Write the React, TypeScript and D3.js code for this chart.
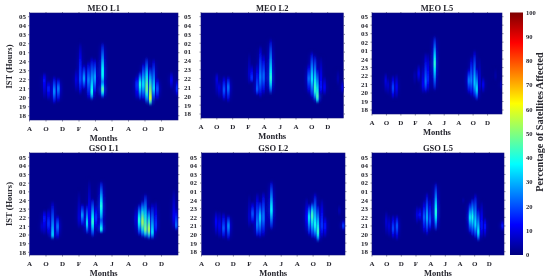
// App.tsx - six ionospheric scintillation heat maps with a shared jet colour bar
import React, { useEffect, useRef } from "react";
import * as d3 from "d3";

const monthLabels = ["A", "O", "D", "F", "A", "J", "A", "O", "D"];
const monthTicks = [0, 2, 4, 6, 8, 10, 12, 14, 16];
const hourTicks = [18, 19, 20, 21, 22, 23, 24, 25, 26, 27, 28, 29];
const hourLabels = ["18", "19", "20", "21", "22", "23", "24", "01", "02", "03", "04", "05"];
const colorTicks = [0, 10, 20, 30, 40, 50, 60, 70, 80, 90, 100];

// streak = [months since first Aug, lowest hour, hour of peak, highest hour, peak %]
// hours run on past midnight, so 25 is 01 IST
const meoL1 = [
  [1.8, 19.7, 22, 22.9, 14], [2.3, 19.6, 21, 22, 16], [3, 19.2, 20.7, 22.5, 28], [3.5, 19.4, 21, 22.3, 26],
  [5.66, 20.5, 22, 23.4, 10], [6.15, 20.1, 22, 26.4, 20], [6.6, 20.8, 22.1, 23.8, 30], [7.15, 19.7, 22, 24.2, 26],
  [7.55, 19.6, 20.5, 24.7, 40], [7.9, 20.2, 22.2, 24.5, 30], [8.86, 19.9, 22.8, 26.4, 40], [8.86, 19.9, 20.9, 22, 48],
  [13, 19.7, 21.5, 22.5, 18], [13.4, 19.6, 21.5, 23, 42], [13.8, 19.6, 21.5, 24, 36], [14.2, 19.2, 21, 24.7, 50],
  [14.65, 19, 19.9, 23.6, 60], [15.05, 19.5, 21, 24.5, 34], [15.5, 19.6, 21, 22.3, 22], [17.2, 20.8, 22, 23, 12], [17.9, 20.1, 21, 22.1, 18],
];
const meoL2 = [
  [2, 19.8, 22, 22.8, 10], [2.3, 19.6, 21, 22, 10], [2.9, 19.4, 20.7, 22.4, 22], [3.45, 19.2, 21, 22.4, 25],
  [6.1, 21.1, 22.5, 25.2, 8], [6.4, 21.5, 22, 23.7, 18], [7.1, 20, 20.7, 23.9, 22], [7.5, 19.6, 22, 26, 26],
  [7.9, 20, 22.2, 25, 24], [8.8, 20, 21.9, 26.8, 42],
  [13.6, 20.2, 22, 23.8, 24], [14, 19.6, 22, 25.3, 36], [14.4, 19.4, 20.7, 24.9, 45], [14.7, 19.1, 19.8, 23.4, 46],
  [15.15, 20, 21, 24.7, 15], [15.6, 20, 21, 22.4, 13], [17.3, 21, 22, 23.2, 5], [17.9, 20.3, 21, 21.8, 12],
];
const meoL5 = [
  [1.9, 19.8, 21.5, 22.5, 10], [2.2, 19.6, 21, 22, 8], [2.9, 19.2, 20.6, 22.2, 20], [3.4, 19.2, 20.7, 22.4, 13],
  [5.9, 20.7, 22, 23, 5], [6.46, 21.1, 22.3, 23.5, 12], [7.06, 19.8, 21, 23.5, 12], [7.43, 19.8, 21.2, 25, 24],
  [7.75, 19.9, 21.6, 25, 16], [8.68, 20, 23.5, 27, 42],
  [13.4, 19.8, 21.5, 23, 26], [13.75, 19.4, 21.5, 24.5, 26], [14.2, 19.2, 21.2, 25.3, 34], [14.5, 19, 20.4, 23.2, 36],
  [14.9, 19.9, 21, 24.5, 10], [15.4, 19.9, 21, 22, 12], [17.1, 21.2, 22, 23.2, 4], [17.9, 20.3, 21, 21.6, 7],
];
const gsoL1 = [
  [1.5, 20, 21, 22.1, 8], [1.8, 19.8, 22, 23, 15], [2.3, 19.8, 21.3, 23.2, 18], [2.8, 19.4, 19.9, 24.1, 34], [3.4, 19.4, 21, 22.4, 25],
  [6, 20.5, 22, 25.4, 9], [6.4, 20.9, 22.3, 23.7, 28], [7, 20, 21.3, 23.7, 36], [7.25, 20, 22, 26.7, 13],
  [7.65, 19.6, 21.5, 24.4, 42], [8.05, 20.5, 22, 23.7, 18], [8.7, 20.2, 23.3, 26.5, 40], [8.7, 20.2, 20.6, 22, 42],
  [12.9, 20.2, 22, 23.3, 9], [13.3, 19.8, 21.7, 23.7, 42], [13.7, 19.6, 21.5, 24.1, 55], [14.05, 19.5, 20.6, 25, 50],
  [14.46, 19.4, 20.6, 23.3, 55], [14.9, 19.4, 20.2, 23.9, 36], [15.3, 20, 21, 24.1, 18], [17.5, 20.7, 22, 25.6, 12], [17.8, 20.5, 21, 23.3, 24],
];
const gsoL2 = [
  [1.84, 19.7, 21.5, 22.9, 13], [2.25, 19.4, 21, 22.9, 12], [2.76, 19.4, 20.7, 22.7, 22], [3.38, 19.2, 21, 22.4, 28],
  [6, 20.5, 22, 25, 8], [6.4, 21.1, 22.4, 23.9, 22], [7, 19.5, 21, 25.1, 26], [7.35, 19.4, 22, 24.1, 34],
  [7.77, 19.5, 22, 25.2, 26], [8.77, 20.3, 22.9, 26.5, 38],
  [13.2, 20.1, 22, 24.5, 13], [13.5, 19.7, 22, 23.7, 36], [13.9, 19.4, 22.3, 23.9, 46], [14.25, 19.4, 21, 25.1, 40],
  [14.6, 19, 20.2, 23.7, 44], [15.1, 19.4, 21, 24.4, 18], [15.5, 19.5, 21, 22.3, 15], [17.8, 20.5, 21, 21.7, 20], [17.3, 22, 22.8, 23.6, 5],
];
const gsoL5 = [
  [1.96, 19.7, 21.5, 22.9, 9], [2.3, 19.5, 21, 22.5, 9], [2.87, 19.4, 20.7, 22.4, 20], [3.4, 19.2, 21, 22.4, 22],
  [6.15, 21.1, 22.3, 23.5, 10], [6.5, 21.5, 22.3, 23.3, 15], [7.1, 20, 22, 24.1, 22], [7.5, 19.7, 22, 25.1, 30],
  [7.9, 20.3, 21.6, 24.4, 22], [8.7, 20.2, 22.5, 26.3, 42],
  [12.45, 23.5, 24, 24.4, 4], [13.35, 20, 22, 23.9, 36], [13.7, 19.6, 22, 24.4, 40], [14.1, 19.4, 21.2, 25, 36],
  [14.5, 19.1, 20.2, 23.3, 38], [14.95, 19.4, 21, 24.1, 15], [15.4, 19.5, 21, 22.1, 15], [17.8, 20.4, 21, 21.7, 16],
];

const panels = [
  { title: "MEO L1", streaks: meoL1, left: 29.5, right: 178, top: 13, bottom: 120, y05: 16.7, y18: 115.7, tickX: 26, xLab: 129, mLab: 138, showY: true },
  { title: "MEO L2", streaks: meoL2, left: 201, right: 343.5, top: 13, bottom: 118, y05: 16.7, y18: 114, tickX: 191, xLab: 126.5, mLab: 136, showY: false },
  { title: "MEO L5", streaks: meoL5, left: 372, right: 502, top: 13, bottom: 114, y05: 16.7, y18: 110, tickX: 368, xLab: 122.5, mLab: 132, showY: false },
  { title: "GSO L1", streaks: gsoL1, left: 29.5, right: 178, top: 153, bottom: 255, y05: 157.3, y18: 252.3, tickX: 26, xLab: 263.5, mLab: 273, showY: true },
  { title: "GSO L2", streaks: gsoL2, left: 201.5, right: 345, top: 153, bottom: 255, y05: 157.3, y18: 251.7, tickX: 197, xLab: 263.5, mLab: 273, showY: false },
  { title: "GSO L5", streaks: gsoL5, left: 372, right: 504, top: 153, bottom: 255, y05: 157.3, y18: 251.7, tickX: 368, xLab: 263.5, mLab: 273, showY: false },
];

const jet = d3.scaleLinear<string>()
  .domain([0, 12.5, 37.5, 62.5, 87.5, 100])
  .range(["#00007f", "#0000ff", "#00ffff", "#ffff00", "#ff0000", "#7f0000"])
  .clamp(true);

const font = "'Liberation Serif', serif";
const ink = "#26262e";

export default function App() {
  const svgRef = useRef<SVGSVGElement>(null);

  useEffect(() => {
    const svg = d3.select(svgRef.current);
    svg.selectAll("*").remove();

    const defs = svg.append("defs");
    const addBlur = (id: string, dev: string | number) =>
      defs.append("filter").attr("id", id)
        .attr("x", "-20%").attr("width", "140%").attr("y", "-20%").attr("height", "140%")
        .append("feGaussianBlur").attr("stdDeviation", dev);
    addBlur("soft", "0.5 0.8");
    addBlur("wide", "1.4 1.6");
    addBlur("textSoft", 0.25);

    const labels = svg.append("g").attr("filter", "url(#textSoft)")
      .attr("font-family", font).attr("font-weight", "bold").attr("fill", ink);

    panels.forEach((p, pi) => {
      const x = d3.scaleLinear().domain([0, 18]).range([p.left, p.right]);
      const y = d3.scaleLinear().domain([18, 29]).range([p.y18, p.y05]);
      const boxW = p.right - p.left;
      const boxH = p.bottom - p.top;

      defs.append("clipPath").attr("id", `clip${pi}`)
        .append("rect").attr("x", p.left).attr("y", p.top).attr("width", boxW).attr("height", boxH);

      const plot = svg.append("g").attr("clip-path", `url(#clip${pi})`);
      plot.append("rect").attr("x", p.left).attr("y", p.top).attr("width", boxW).attr("height", boxH)
        .attr("fill", jet(1.5));

      const glow = plot.append("g").attr("filter", "url(#wide)").attr("opacity", 0.7);
      const cells = plot.append("g").attr("filter", "url(#soft)");
      const bandW = x(0.32) - x(0);

      p.streaks.forEach(([month, lo, peak, hi, value], si) => {
        const makeGrad = (id: string, scale: number) => {
          const grad = defs.append("linearGradient").attr("id", id)
            .attr("x1", 0).attr("x2", 0).attr("y1", 0).attr("y2", 1);
          d3.range(0, 1.01, 0.1).forEach(t => {
            const h = hi - t * (hi - lo);
            const u = h >= peak ? (hi - h) / (hi - peak) : (h - lo) / (peak - lo);
            grad.append("stop").attr("offset", t)
              .attr("stop-color", jet(value * scale * Math.pow(u, 0.55)))
              .attr("stop-opacity", Math.pow(u, 0.4));
          });
        };
        makeGrad(`g${pi}-${si}`, 1);
        makeGrad(`w${pi}-${si}`, 0.45);

        glow.append("rect")
          .attr("x", x(month) - bandW * 1.2)
          .attr("width", bandW * 2.4)
          .attr("y", y(hi))
          .attr("height", y(lo) - y(hi))
          .attr("fill", `url(#w${pi}-${si})`);
        cells.append("rect")
          .attr("x", x(month) - bandW / 2)
          .attr("width", bandW)
          .attr("y", y(hi))
          .attr("height", y(lo) - y(hi))
          .attr("fill", `url(#g${pi}-${si})`);
      });

      // frame and little tick marks
      svg.append("rect").attr("x", p.left).attr("y", p.top).attr("width", boxW).attr("height", boxH)
        .attr("fill", "none").attr("stroke", "#10107a").attr("stroke-width", 0.6);
      const marks = svg.append("g").attr("stroke", "#3a3a66").attr("stroke-width", 0.6);
      hourTicks.forEach(h => {
        marks.append("line").attr("x1", p.left - 1.5).attr("x2", p.left).attr("y1", y(h)).attr("y2", y(h));
        marks.append("line").attr("x1", p.right).attr("x2", p.right + 1.5).attr("y1", y(h)).attr("y2", y(h));
      });
      monthTicks.forEach(m => {
        marks.append("line").attr("x1", x(m)).attr("x2", x(m)).attr("y1", p.top - 1).attr("y2", p.top);
        marks.append("line").attr("x1", x(m)).attr("x2", x(m)).attr("y1", p.bottom).attr("y2", p.bottom + 1.5);
      });

      labels.append("text").attr("x", (p.left + p.right) / 2).attr("y", p.top - 2.5)
        .attr("text-anchor", "middle").attr("font-size", 8.5).text(p.title);

      hourLabels.forEach((lab, i) => {
        labels.append("text").attr("x", p.tickX).attr("y", y(hourTicks[i]) + 2.4)
          .attr("text-anchor", "end").attr("font-size", 7).text(lab);
      });
      monthLabels.forEach((lab, i) => {
        labels.append("text").attr("x", x(monthTicks[i])).attr("y", p.xLab + 2.4)
          .attr("text-anchor", "middle").attr("font-size", 7).text(lab);
      });
      labels.append("text").attr("x", (p.left + p.right) / 2).attr("y", p.mLab + 2.5)
        .attr("text-anchor", "middle").attr("font-size", 8.5).text("Months");

      if (p.showY) {
        labels.append("text")
          .attr("transform", `translate(11.5,${(p.top + p.bottom) / 2}) rotate(-90)`)
          .attr("text-anchor", "middle").attr("font-size", 8.5).text("IST (Hours)");
      }
    });

    // colour bar
    const cy = d3.scaleLinear().domain([0, 100]).range([255, 12.5]);
    const cbar = defs.append("linearGradient").attr("id", "cbar")
      .attr("x1", 0).attr("x2", 0).attr("y1", 1).attr("y2", 0);
    jet.domain().forEach(v => {
      cbar.append("stop").attr("offset", v / 100).attr("stop-color", jet(v));
    });
    svg.append("rect").attr("x", 510).attr("width", 13).attr("y", cy(100)).attr("height", cy(0) - cy(100))
      .attr("fill", "url(#cbar)");
    colorTicks.forEach(v => {
      labels.append("text").attr("x", 526).attr("y", cy(v) + 2.2)
        .attr("font-size", 6.5).text(v);
    });
    labels.append("text")
      .attr("transform", "translate(543,122) rotate(-90)")
      .attr("text-anchor", "middle").attr("font-size", 10.2).text("Percentage of Satellites Affected");
  }, []);

  return (
    <svg ref={svgRef} width={550} height={280}
      style={{ position: "absolute", left: 0, top: 0, background: "#fff" }} />
  );
}
